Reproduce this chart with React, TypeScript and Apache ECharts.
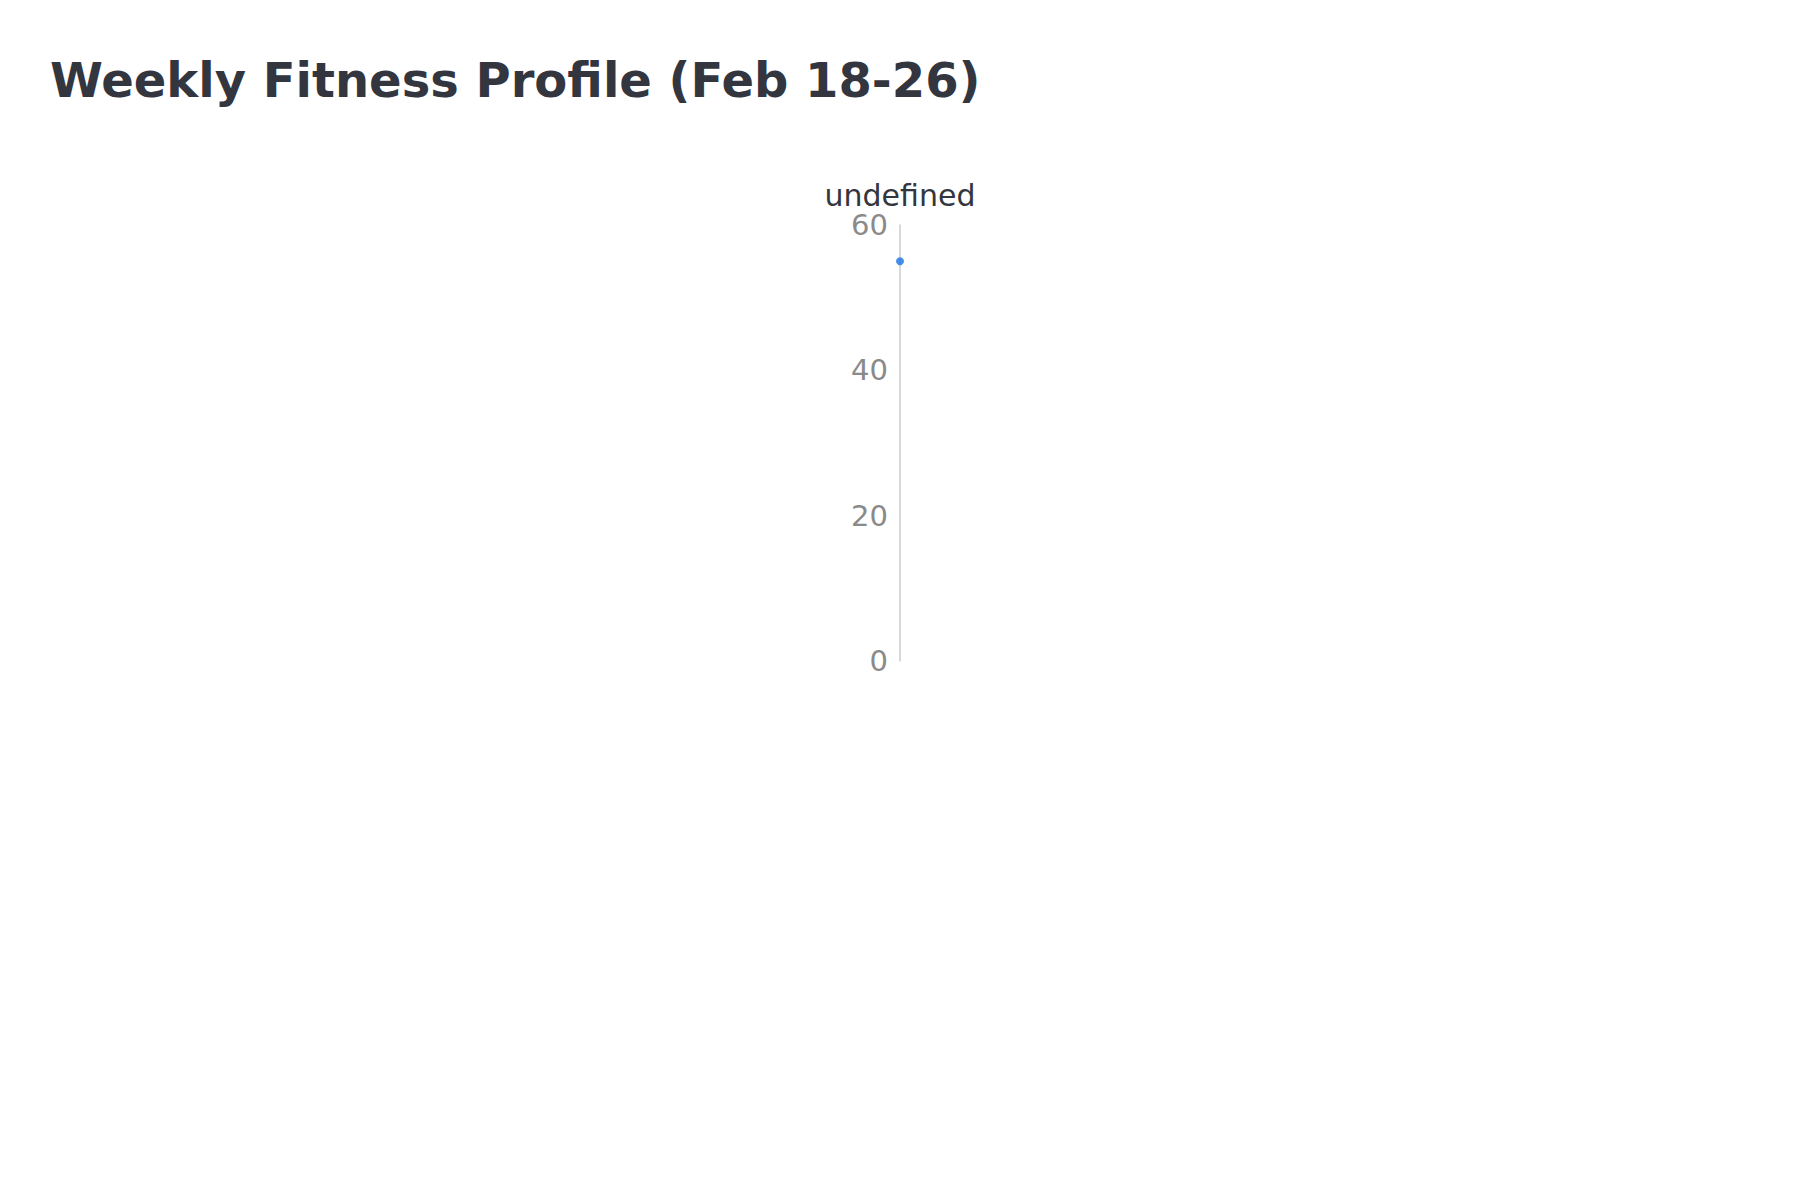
import React, { useEffect, useRef } from 'react';
import * as echarts from 'echarts';

const titleText = 'Weekly Fitness Profile (Feb 18-26)';
const axisNames = [undefined as string | undefined];
const values = [55];
const axisTicks = [0, 20, 40, 60];

const App: React.FC = () => {
  const chartRef = useRef<HTMLDivElement>(null);

  useEffect(() => {
    document.body.style.margin = '0';
    if (!chartRef.current) return;
    const chart = echarts.init(chartRef.current, undefined, { renderer: 'svg' });

    const option: echarts.EChartsOption = {
      animation: false,
      textStyle: { fontFamily: 'DejaVu Sans' },
      title: {
        text: titleText,
        left: 45,
        top: 51,
        textStyle: { fontSize: 48, fontWeight: 'bold', color: '#33363f' }
      },
      grid: { left: 900, right: 100, top: 225, bottom: 539 },
      xAxis: { type: 'value', min: 0, max: 1, show: false },
      yAxis: {
        type: 'value',
        name: String(axisNames[0]),
        nameLocation: 'end',
        nameGap: 8,
        nameTextStyle: { fontSize: 30, color: '#33363f', align: 'center', verticalAlign: 'bottom' },
        min: axisTicks[0],
        max: axisTicks[axisTicks.length - 1],
        interval: 20,
        axisLine: { show: true, lineStyle: { color: '#cccccc', width: 1.5 } },
        axisTick: { show: false },
        splitLine: { show: false },
        axisLabel: { fontSize: 29, color: '#8a8a8a', margin: 12 }
      },
      series: [
        {
          type: 'scatter',
          data: values.map((v, i) => [i, v]),
          symbolSize: 8,
          itemStyle: { color: '#1a73e8' }
        }
      ]
    };

    chart.setOption(option);
    return () => chart.dispose();
  }, []);

  return <div ref={chartRef} style={{ width: 1800, height: 1200 }} />;
};

export default App;
